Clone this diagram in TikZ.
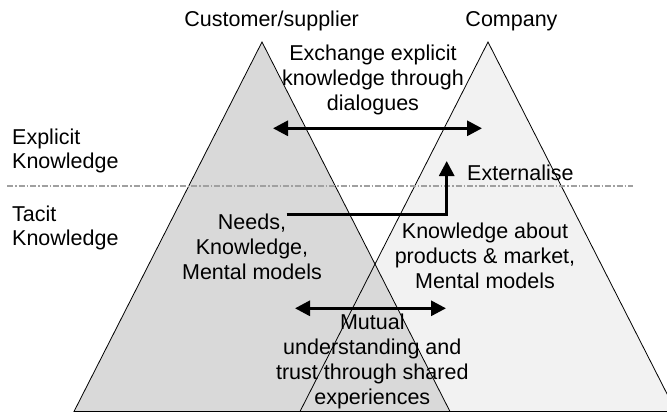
\documentclass[tikz,border=0pt]{standalone}
\usepackage{fontspec}
\setmainfont{Liberation Sans}
\usetikzlibrary{arrows.meta}
\definecolor{leftgray}{HTML}{D9D9D9}
\definecolor{rightgray}{HTML}{F2F2F2}
\definecolor{dashgray}{HTML}{A0A0A0}
\begin{document}
\begin{tikzpicture}[x=1pt,y=-1pt,
  lbl/.style={inner sep=0pt,font=\fontsize{21.5}{25}\selectfont},
  lblc/.style={lbl,align=center,anchor=north},
  lbll/.style={inner sep=0pt,font=\fontsize{21.5}{24}\selectfont,align=left,anchor=north west},
  tri/.style={draw=black,line width=0.8pt,line join=miter},
  bigarrow/.style={line width=3pt,line join=miter,{Triangle[length=15pt,width=15pt]}-{Triangle[length=15pt,width=15pt]}},
  onearrow/.style={line width=3pt,line join=miter,-{Triangle[length=15pt,width=15pt]}},
  divider/.style={draw=dashgray,line width=1.1pt,dash pattern=on 6pt off 2pt on 1.5pt off 2pt}]
\useasboundingbox (0,0) rectangle (667,412);
\fill[white] (0,0) rectangle (667,412);
\begin{scope}
\clip (0,0) rectangle (667,412);
% triangle corners
\coordinate (LA) at (262,42);
\coordinate (LB) at (74,411.5);
\coordinate (LC) at (450,411.5);
\coordinate (RA) at (488,42);
\coordinate (RB) at (300,411.5);
\coordinate (RC) at (676,411.5);
\fill[rightgray] (RA) -- (RB) -- (RC) -- cycle;
\fill[leftgray] (LA) -- (LB) -- (LC) -- cycle;
\draw[tri] (RA) -- (RB) -- (RC) -- cycle;
\draw[tri] (LA) -- (LB) -- (LC) -- cycle;
\end{scope}
% divider
\coordinate (D1) at (7,186);
\coordinate (D2) at (633,186);
\draw[divider] (D1) -- (D2);
% arrows
\coordinate (T1) at (273,128.3);
\coordinate (T2) at (482,128.3);
\draw[bigarrow] (T1) -- (T2);
\coordinate (E1) at (286.7,214);
\coordinate (E2) at (446.7,161);
\draw[onearrow] (E1) -| (E2);
\coordinate (B1) at (295,308.3);
\coordinate (B2) at (446,308.3);
\draw[bigarrow] (B1) -- (B2);
% texts
\node[lbl,anchor=base] (cust) at (271.7,26.7) {Customer/supplier};
\node[lbl,anchor=base] (comp) at (511.5,26.7) {Company};
\node[lblc] (exch) at (373,44.3) {Exchange explicit\\knowledge through\\dialogues};
\node[lbll] (expl) at (12,129.1) {Explicit\\Knowledge};
\node[lbll] (tac) at (12,205.9) {Tacit\\Knowledge};
\node[lbl,anchor=base west] (ext) at (467,180) {Externalise};
\node[lblc] (needs) at (252,213.6) {Needs,\\Knowledge,\\Mental models};
\node[lblc] (kab) at (485,222.6) {Knowledge about\\products \& market,\\Mental models};
\node[lblc] (mut) at (372.3,313.6) {Mutual\\understanding and\\trust through shared\\experiences};
\end{tikzpicture}
\end{document}
